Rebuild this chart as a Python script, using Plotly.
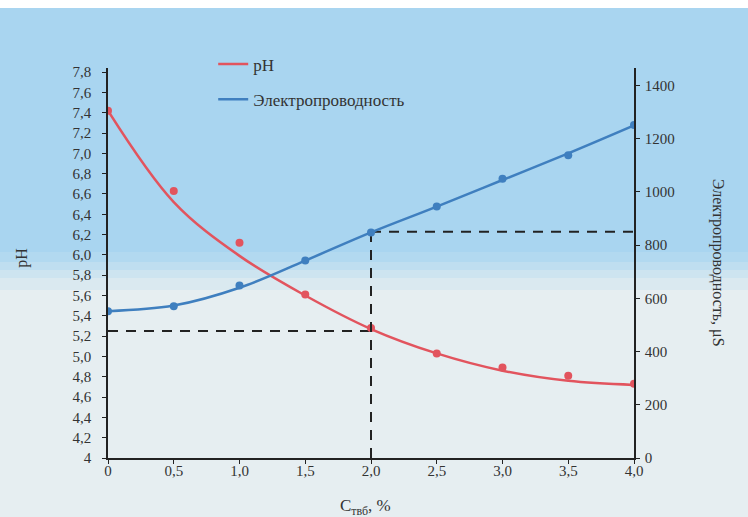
import plotly.graph_objects as go

# ---- data ----
conc = [0, 0.5, 1.0, 1.5, 2.0, 2.5, 3.0, 3.5, 4.0]
ph_points = [7.42, 6.63, 6.12, 5.61, 5.28, 5.03, 4.89, 4.81, 4.73]
ph_curve = [7.42, 6.52, 5.99, 5.60, 5.27, 5.03, 4.86, 4.76, 4.72]
cond_points = [552, 570, 648, 742, 848, 945, 1050, 1138, 1252]
cond_curve = [552, 573, 640, 742, 848, 945, 1045, 1145, 1250]

x_ticks = [0, 0.5, 1.0, 1.5, 2.0, 2.5, 3.0, 3.5, 4.0]
x_ticktext = ["0", "0,5", "1,0", "1,5", "2,0", "2,5", "3,0", "3,5", "4,0"]
ph_ticks = [4, 4.2, 4.4, 4.6, 4.8, 5.0, 5.2, 5.4, 5.6, 5.8, 6.0, 6.2, 6.4, 6.6, 6.8, 7.0, 7.2, 7.4, 7.6, 7.8]
ph_ticktext = ["4", "4,2", "4,4", "4,6", "4,8", "5,0", "5,2", "5,4", "5,6", "5,8", "6,0",
               "6,2", "6,4", "6,6", "6,8", "7,0", "7,2", "7,4", "7,6", "7,8"]
cond_ticks = [0, 200, 400, 600, 800, 1000, 1200, 1400]

guide_x = 2.0
guide_ph = 5.25
guide_cond = 850

RED = "#e2545e"
BLUE = "#3f7fbf"
FONT = "Liberation Serif, Times New Roman, serif"
TXT = "#333333"

fig = go.Figure()

# dashed guide lines
fig.add_trace(go.Scatter(x=[0, guide_x], y=[guide_ph, guide_ph], mode="lines",
                         line=dict(color="#222222", width=2, dash="10px,8px"),
                         showlegend=False, hoverinfo="skip"))
fig.add_trace(go.Scatter(x=[guide_x, guide_x], y=[0, guide_cond], mode="lines", yaxis="y2",
                         line=dict(color="#222222", width=2, dash="10px,8px"),
                         showlegend=False, hoverinfo="skip"))
fig.add_trace(go.Scatter(x=[guide_x, 4.0], y=[guide_cond, guide_cond], mode="lines", yaxis="y2",
                         line=dict(color="#222222", width=2, dash="10px,8px"),
                         showlegend=False, hoverinfo="skip"))

# curves
fig.add_trace(go.Scatter(x=conc, y=ph_curve, mode="lines", name="pH",
                         line=dict(color=RED, width=2.5, shape="spline"),
                         legendgroup="a"))
fig.add_trace(go.Scatter(x=conc, y=cond_curve, mode="lines", name="Электропроводность",
                         yaxis="y2", line=dict(color=BLUE, width=2.5, shape="spline"),
                         legendgroup="b"))
# points
fig.add_trace(go.Scatter(x=conc, y=ph_points, mode="markers", showlegend=False,
                         marker=dict(color=RED, size=8)))
fig.add_trace(go.Scatter(x=conc, y=cond_points, mode="markers", showlegend=False,
                         yaxis="y2", marker=dict(color=BLUE, size=8)))

def py(pix):
    return (458 - pix) / 390.0

shapes = []
# background bands
shapes.append(dict(type="rect", xref="paper", yref="paper", x0=-0.3, x1=1.3,
                   y0=py(517), y1=py(0), fillcolor="#e6eef1", line=dict(width=0), layer="below"))
blues = [(8, 252, "#a9d5f0"), (252, 262, "#b2d9f0"), (262, 270, "#bfdef0"),
         (270, 278, "#cde4f0"), (278, 290, "#dae9f0")]
for t, b, c in blues:
    shapes.append(dict(type="rect", xref="paper", yref="paper", x0=-0.3, x1=1.3,
                       y0=py(b), y1=py(t), fillcolor=c, line=dict(width=0), layer="below"))
shapes.append(dict(type="rect", xref="paper", yref="paper", x0=-0.3, x1=1.3,
                   y0=py(8), y1=py(0), fillcolor="#ffffff", line=dict(width=0), layer="below"))

axis_common = dict(showgrid=False, zeroline=False, showline=True, linecolor="#222222",
                   linewidth=1.5, ticks="outside", ticklen=4, tickcolor="#222222",
                   tickfont=dict(family=FONT, size=15, color=TXT))

fig.update_layout(
    width=748, height=517,
    margin=dict(l=108, r=114, t=68, b=59),
    paper_bgcolor="#e6eef1", plot_bgcolor="rgba(0,0,0,0)",
    shapes=shapes,
    xaxis=dict(range=[0, 4], tickvals=x_ticks, ticktext=x_ticktext,
               ticklabelstandoff=-6, **axis_common),
    yaxis=dict(range=[4, 7.84], tickvals=ph_ticks, ticktext=ph_ticktext,
               ticklabelstandoff=8, **axis_common),
    yaxis2=dict(range=[0, 1466], tickvals=cond_ticks, overlaying="y", side="right",
                ticklabelstandoff=2, **axis_common),
    legend=dict(x=0.2, y=1.055, xanchor="left", yanchor="top", bgcolor="rgba(0,0,0,0)",
                font=dict(family=FONT, size=17, color=TXT), tracegroupgap=10),
    annotations=[
        dict(text="pH", xref="paper", yref="paper", x=-0.164, y=0.513, showarrow=False,
             xanchor="center", yanchor="middle",
             textangle=-90, font=dict(family=FONT, size=16, color=TXT)),
        dict(text="Электропроводность, μS", xref="paper", yref="paper", x=1.16, y=0.5,
             xanchor="center", yanchor="middle",
             showarrow=False, textangle=90, font=dict(family=FONT, size=16, color=TXT)),
        dict(text="C<sub>твб</sub>, %", xref="paper", yref="paper", x=0.489, y=-0.125,
             xanchor="center", showarrow=False, yanchor="middle",
             font=dict(family=FONT, size=17, color=TXT)),
    ],
)

fig.write_html("out.html", config={"displayModeBar": False},
               post_script="document.body.style.margin='0';document.body.style.background='#e6eef1';")
